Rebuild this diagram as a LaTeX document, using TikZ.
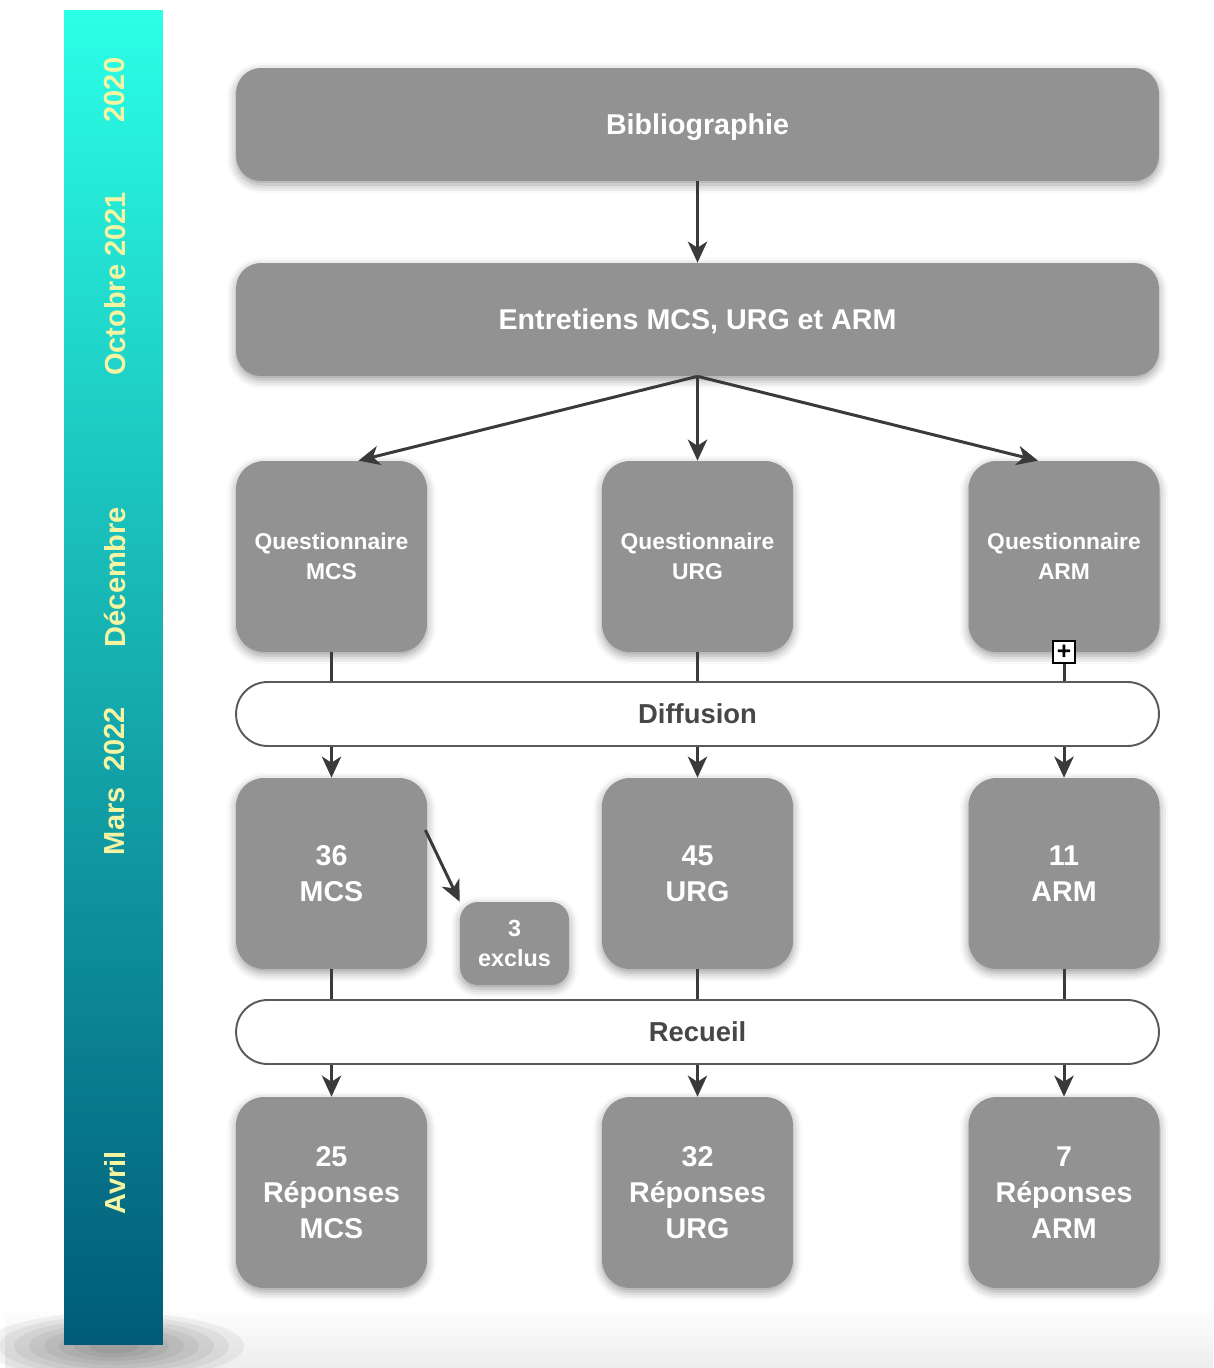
\documentclass[tikz,border=0pt]{standalone}
\usepackage{fontspec}
\setmainfont{Liberation Sans}
\usetikzlibrary{positioning,arrows.meta,shadows.blur}
\definecolor{boxgray}{HTML}{929292}
\definecolor{arrowgray}{HTML}{3A3A3A}
\definecolor{pillgray}{HTML}{5A5A5A}
\definecolor{datecol}{HTML}{F4F4A2}
\definecolor{bartop}{HTML}{2BFFE6}
\definecolor{barmid}{HTML}{16B5B5}
\definecolor{barbot}{HTML}{005B78}
\tikzset{%
	box/.style={
		rectangle,
		rounded corners=0.56cm,
		fill=boxgray,
		text=white,
		align=center,
		inner sep=0pt,
		blur shadow={shadow xshift=0pt, shadow yshift=-2pt, shadow blur radius=5pt, shadow opacity=40}
	},
	box-wide/.style={ minimum width=18.46cm, minimum height=2.26cm, rounded corners=0.5cm, text depth=0pt, font=\fontsize{16.3}{19}\selectfont\bfseries },
	box-quest/.style={ minimum width=3.82cm, minimum height=3.82cm, font=\fontsize{13}{17}\selectfont\bfseries },
	box-count/.style={ minimum width=3.82cm, minimum height=3.82cm, font=\fontsize{16.3}{20.6}\selectfont\bfseries },
	box-small/.style={ minimum width=2.18cm, minimum height=1.66cm, rounded corners=0.36cm, font=\fontsize{13.3}{17}\selectfont\bfseries },
	pill/.style={
		rectangle,
		rounded corners=0.63cm,
		draw=pillgray,
		line width=1.1pt,
		fill=white,
		minimum width=18.46cm,
		minimum height=1.28cm,
		text=black!72,
		font=\fontsize{15.6}{19}\selectfont\bfseries
	},
	date/.style={ rotate=90, text=datecol, font=\fontsize{16.5}{20}\selectfont\bfseries },
	link/.style={ draw=arrowgray, line width=1.7pt },
}

\begin{document}
\begin{tikzpicture}[x=0.02cm, y=-0.02cm, >={Stealth[length=12pt, width=11pt, inset=3.5pt]}]
\useasboundingbox (0,0) rectangle (1213,1368);

% background glow
\shade[top color=white, bottom color=black!7] (5,1305) rectangle (1213,1368);
\foreach \r in {1,...,8}
	\fill[black, opacity=0.05] (114,1346) ellipse ({2.9cm-\r*0.3cm} and {0.75cm-\r*0.075cm});

% timeline
\node[rectangle, inner sep=0pt, minimum width=1.98cm, minimum height=26.7cm,
	top color=bartop, middle color=barmid, bottom color=barbot] (timeline) at (113.5,677.5) {};
\foreach \d/\y [count=\i] in {2020/90, Octobre 2021/284, Décembre/577, Mars~~2022/781, Avril/1183}
	\node[date] (date-\i) at (115,\y) {\d};

% boxes
\node[box, box-wide] (biblio) at (697.5,124.5) {Bibliographie};
\node[box, box-wide] (entretiens) at (697.5,319.5) {Entretiens MCS, URG et ARM};
\foreach \m/\x in {MCS/331.5, URG/697.5, ARM/1064}
	\node[box, box-quest] (quest-\m) at (\x,556.5) {Questionnaire\\\m};
\foreach \m/\x/\n in {MCS/331.5/36, URG/697.5/45, ARM/1064/11}
	\node[box, box-count] (count-\m) at (\x,873.5) {\n\\\m};
\foreach \m/\x/\n in {MCS/331.5/25, URG/697.5/32, ARM/1064/7}
	\node[box, box-count] (rep-\m) at (\x,1192.5) {\n\\Réponses\\\m};
\node[box, box-small] (exclus) at (514.5,943.5) {3\\exclus};
\node[pill] (diffusion) at (697.5,714) {Diffusion};
\node[pill] (recueil) at (697.5,1032) {Recueil};

% connections
\draw[link, ->] (biblio) -- (entretiens);
\draw[link, ->] (entretiens.south) -- ([xshift=0.54cm]quest-MCS.north);
\draw[link, ->] (entretiens.south) -- (quest-URG.north);
\draw[link, ->] (entretiens.south) -- ([xshift=-0.52cm]quest-ARM.north);
\foreach \m in {MCS, URG, ARM} {
	\draw[link] (quest-\m) -- (quest-\m |- diffusion.north);
	\draw[link, ->] (quest-\m |- diffusion.south) -- (count-\m);
	\draw[link] (count-\m) -- (count-\m |- recueil.north);
	\draw[link, ->] (count-\m |- recueil.south) -- (rep-\m);
}
\draw[link, ->] ([yshift=0.87cm, xshift=-0.04cm]count-MCS.east) -- (exclus.north west);

% marker
\node[draw=black, fill=white, line width=0.8pt, minimum size=0.44cm, inner sep=0pt, font=\fontsize{14}{14}\selectfont\bfseries] (plus) at (1064,652) {+};

\end{tikzpicture}
\end{document}
